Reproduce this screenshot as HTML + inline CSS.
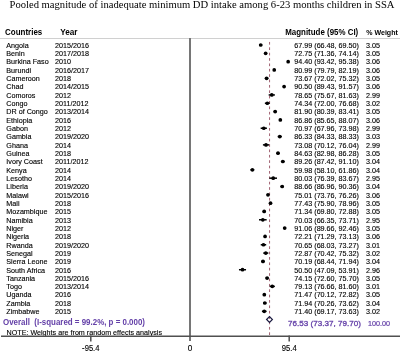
<!DOCTYPE html><html><head><meta charset="utf-8"><style>
html,body{margin:0;padding:0;background:#fff;}body{width:400px;height:352px;overflow:hidden;}
svg{display:block;will-change:transform}
.t{font-family:"Liberation Sans",sans-serif;font-size:7.2px;fill:#000;stroke:#000;stroke-width:0.12}
.h{font-family:"Liberation Sans",sans-serif;font-size:8.4px;font-weight:bold;fill:#000}
.ti{font-family:"Liberation Serif",serif;font-size:10.6px;fill:#000}
.p{fill:#6440a8}
</style></head><body>
<svg width="400" height="352" viewBox="0 0 400 352">
<rect width="400" height="352" fill="#fff"/>
<text class="ti" x="9.5" y="8.4" textLength="385" lengthAdjust="spacingAndGlyphs">Pooled magnitude of inadequate minimum DD intake among 6-23 months children in SSA</text>
<text class="h" x="5" y="34.5" textLength="37.3" lengthAdjust="spacingAndGlyphs">Countries</text>
<text class="h" x="60.25" y="34.5" textLength="17.3" lengthAdjust="spacingAndGlyphs">Year</text>
<text class="h" x="285.25" y="34.5" textLength="73" lengthAdjust="spacingAndGlyphs">Magnitude (95% CI)</text>
<text class="h" x="366.3" y="34.9" textLength="31.5" lengthAdjust="spacingAndGlyphs" style="font-size:7.6px">% Weight</text>
<rect x="0" y="38" width="400" height="1" fill="#d0d0d0"/>
<rect x="189" y="38" width="2" height="303" fill="#767676"/>
<line x1="269.575894" y1="41.95" x2="269.575894" y2="336" stroke="#a06070" stroke-width="1" stroke-dasharray="2.7 2.677"/>
<text class="t" x="6.3" y="47.80">Angola</text>
<text class="t" x="55" y="47.80">2015/2016</text>
<text class="t" x="359" y="47.80" text-anchor="end">67.99 (66.48, 69.50)</text>
<text class="t" x="366" y="47.80">3.05</text>
<line x1="259.13" y1="45.00" x2="262.27" y2="45.00" stroke="#000" stroke-width="1.5"/>
<circle cx="260.70" cy="45.00" r="1.85" fill="#000"/>
<text class="t" x="6.3" y="56.12">Benin</text>
<text class="t" x="55" y="56.12">2017/2018</text>
<text class="t" x="359" y="56.12" text-anchor="end">72.75 (71.36, 74.14)</text>
<text class="t" x="366" y="56.12">3.05</text>
<line x1="264.20" y1="53.32" x2="267.09" y2="53.32" stroke="#000" stroke-width="1.5"/>
<circle cx="265.65" cy="53.32" r="1.85" fill="#000"/>
<text class="t" x="6.3" y="64.45">Burkina Faso</text>
<text class="t" x="55" y="64.45">2010</text>
<text class="t" x="359" y="64.45" text-anchor="end">94.40 (93.42, 95.38)</text>
<text class="t" x="366" y="64.45">3.06</text>
<line x1="287.14" y1="61.65" x2="289.18" y2="61.65" stroke="#000" stroke-width="1.5"/>
<circle cx="288.16" cy="61.65" r="1.85" fill="#000"/>
<text class="t" x="6.3" y="72.77">Burundi</text>
<text class="t" x="55" y="72.77">2016/2017</text>
<text class="t" x="359" y="72.77" text-anchor="end">80.99 (79.79, 82.19)</text>
<text class="t" x="366" y="72.77">3.06</text>
<line x1="272.97" y1="69.97" x2="275.46" y2="69.97" stroke="#000" stroke-width="1.5"/>
<circle cx="274.21" cy="69.97" r="1.85" fill="#000"/>
<text class="t" x="6.3" y="81.09">Cameroon</text>
<text class="t" x="55" y="81.09">2018</text>
<text class="t" x="359" y="81.09" text-anchor="end">73.67 (72.02, 75.32)</text>
<text class="t" x="366" y="81.09">3.05</text>
<line x1="264.89" y1="78.29" x2="268.32" y2="78.29" stroke="#000" stroke-width="1.5"/>
<circle cx="266.60" cy="78.29" r="1.85" fill="#000"/>
<text class="t" x="6.3" y="89.42">Chad</text>
<text class="t" x="55" y="89.42">2014/2015</text>
<text class="t" x="359" y="89.42" text-anchor="end">90.50 (89.43, 91.57)</text>
<text class="t" x="366" y="89.42">3.06</text>
<line x1="282.99" y1="86.62" x2="285.21" y2="86.62" stroke="#000" stroke-width="1.5"/>
<circle cx="284.10" cy="86.62" r="1.85" fill="#000"/>
<text class="t" x="6.3" y="97.74">Comoros</text>
<text class="t" x="55" y="97.74">2012</text>
<text class="t" x="359" y="97.74" text-anchor="end">78.65 (75.67, 81.63)</text>
<text class="t" x="366" y="97.74">2.99</text>
<line x1="268.68" y1="94.94" x2="274.88" y2="94.94" stroke="#000" stroke-width="1.5"/>
<circle cx="271.78" cy="94.94" r="1.85" fill="#000"/>
<text class="t" x="6.3" y="106.06">Congo</text>
<text class="t" x="55" y="106.06">2011/2012</text>
<text class="t" x="359" y="106.06" text-anchor="end">74.34 (72.00, 76.68)</text>
<text class="t" x="366" y="106.06">3.02</text>
<line x1="264.87" y1="103.26" x2="269.73" y2="103.26" stroke="#000" stroke-width="1.5"/>
<circle cx="267.30" cy="103.26" r="1.85" fill="#000"/>
<text class="t" x="6.3" y="114.38">DR of Congo</text>
<text class="t" x="55" y="114.38">2013/2014</text>
<text class="t" x="359" y="114.38" text-anchor="end">81.90 (80.39, 83.41)</text>
<text class="t" x="366" y="114.38">3.05</text>
<line x1="273.59" y1="111.58" x2="276.73" y2="111.58" stroke="#000" stroke-width="1.5"/>
<circle cx="275.16" cy="111.58" r="1.85" fill="#000"/>
<text class="t" x="6.3" y="122.71">Ethiopia</text>
<text class="t" x="55" y="122.71">2016</text>
<text class="t" x="359" y="122.71" text-anchor="end">86.86 (85.65, 88.07)</text>
<text class="t" x="366" y="122.71">3.06</text>
<line x1="279.06" y1="119.91" x2="281.58" y2="119.91" stroke="#000" stroke-width="1.5"/>
<circle cx="280.32" cy="119.91" r="1.85" fill="#000"/>
<text class="t" x="6.3" y="131.03">Gabon</text>
<text class="t" x="55" y="131.03">2012</text>
<text class="t" x="359" y="131.03" text-anchor="end">70.97 (67.96, 73.98)</text>
<text class="t" x="366" y="131.03">2.99</text>
<line x1="260.66" y1="128.23" x2="266.92" y2="128.23" stroke="#000" stroke-width="1.5"/>
<circle cx="263.79" cy="128.23" r="1.85" fill="#000"/>
<text class="t" x="6.3" y="139.35">Gambia</text>
<text class="t" x="55" y="139.35">2019/2020</text>
<text class="t" x="359" y="139.35" text-anchor="end">86.33 (84.33, 88.33)</text>
<text class="t" x="366" y="139.35">3.03</text>
<line x1="277.69" y1="136.55" x2="281.85" y2="136.55" stroke="#000" stroke-width="1.5"/>
<circle cx="279.77" cy="136.55" r="1.85" fill="#000"/>
<text class="t" x="6.3" y="147.68">Ghana</text>
<text class="t" x="55" y="147.68">2014</text>
<text class="t" x="359" y="147.68" text-anchor="end">73.08 (70.12, 76.04)</text>
<text class="t" x="366" y="147.68">2.99</text>
<line x1="262.91" y1="144.88" x2="269.07" y2="144.88" stroke="#000" stroke-width="1.5"/>
<circle cx="265.99" cy="144.88" r="1.85" fill="#000"/>
<text class="t" x="6.3" y="156.00">Guinea</text>
<text class="t" x="55" y="156.00">2018</text>
<text class="t" x="359" y="156.00" text-anchor="end">84.63 (82.98, 86.28)</text>
<text class="t" x="366" y="156.00">3.05</text>
<line x1="276.28" y1="153.20" x2="279.71" y2="153.20" stroke="#000" stroke-width="1.5"/>
<circle cx="278.00" cy="153.20" r="1.85" fill="#000"/>
<text class="t" x="6.3" y="164.32">Ivory Coast</text>
<text class="t" x="55" y="164.32">2011/2012</text>
<text class="t" x="359" y="164.32" text-anchor="end">89.26 (87.42, 91.10)</text>
<text class="t" x="366" y="164.32">3.04</text>
<line x1="280.90" y1="161.52" x2="284.73" y2="161.52" stroke="#000" stroke-width="1.5"/>
<circle cx="282.81" cy="161.52" r="1.85" fill="#000"/>
<text class="t" x="6.3" y="172.65">Kenya</text>
<text class="t" x="55" y="172.65">2014</text>
<text class="t" x="359" y="172.65" text-anchor="end">59.98 (58.10, 61.86)</text>
<text class="t" x="366" y="172.65">3.04</text>
<line x1="250.41" y1="169.84" x2="254.32" y2="169.84" stroke="#000" stroke-width="1.5"/>
<circle cx="252.37" cy="169.84" r="1.85" fill="#000"/>
<text class="t" x="6.3" y="180.97">Lesotho</text>
<text class="t" x="55" y="180.97">2014</text>
<text class="t" x="359" y="180.97" text-anchor="end">80.03 (76.39, 83.67)</text>
<text class="t" x="366" y="180.97">2.95</text>
<line x1="269.43" y1="178.17" x2="277.00" y2="178.17" stroke="#000" stroke-width="1.5"/>
<circle cx="273.22" cy="178.17" r="1.85" fill="#000"/>
<text class="t" x="6.3" y="189.29">Liberia</text>
<text class="t" x="55" y="189.29">2019/2020</text>
<text class="t" x="359" y="189.29" text-anchor="end">88.66 (86.96, 90.36)</text>
<text class="t" x="366" y="189.29">3.04</text>
<line x1="280.42" y1="186.49" x2="283.96" y2="186.49" stroke="#000" stroke-width="1.5"/>
<circle cx="282.19" cy="186.49" r="1.85" fill="#000"/>
<text class="t" x="6.3" y="197.61">Malawi</text>
<text class="t" x="55" y="197.61">2015/2016</text>
<text class="t" x="359" y="197.61" text-anchor="end">75.01 (73.76, 76.26)</text>
<text class="t" x="366" y="197.61">3.06</text>
<line x1="266.70" y1="194.81" x2="269.30" y2="194.81" stroke="#000" stroke-width="1.5"/>
<circle cx="268.00" cy="194.81" r="1.85" fill="#000"/>
<text class="t" x="6.3" y="205.94">Mali</text>
<text class="t" x="55" y="205.94">2018</text>
<text class="t" x="359" y="205.94" text-anchor="end">77.43 (75.90, 78.96)</text>
<text class="t" x="366" y="205.94">3.05</text>
<line x1="268.92" y1="203.14" x2="272.10" y2="203.14" stroke="#000" stroke-width="1.5"/>
<circle cx="270.51" cy="203.14" r="1.85" fill="#000"/>
<text class="t" x="6.3" y="214.26">Mozambique</text>
<text class="t" x="55" y="214.26">2015</text>
<text class="t" x="359" y="214.26" text-anchor="end">71.34 (69.80, 72.88)</text>
<text class="t" x="366" y="214.26">3.05</text>
<line x1="262.58" y1="211.46" x2="265.78" y2="211.46" stroke="#000" stroke-width="1.5"/>
<circle cx="264.18" cy="211.46" r="1.85" fill="#000"/>
<text class="t" x="6.3" y="222.58">Namibia</text>
<text class="t" x="55" y="222.58">2013</text>
<text class="t" x="359" y="222.58" text-anchor="end">70.03 (66.35, 73.71)</text>
<text class="t" x="366" y="222.58">2.95</text>
<line x1="258.99" y1="219.78" x2="266.64" y2="219.78" stroke="#000" stroke-width="1.5"/>
<circle cx="262.82" cy="219.78" r="1.85" fill="#000"/>
<text class="t" x="6.3" y="230.91">Niger</text>
<text class="t" x="55" y="230.91">2012</text>
<text class="t" x="359" y="230.91" text-anchor="end">91.06 (89.66, 92.46)</text>
<text class="t" x="366" y="230.91">3.05</text>
<line x1="283.23" y1="228.11" x2="286.14" y2="228.11" stroke="#000" stroke-width="1.5"/>
<circle cx="284.68" cy="228.11" r="1.85" fill="#000"/>
<text class="t" x="6.3" y="239.23">Nigeria</text>
<text class="t" x="55" y="239.23">2018</text>
<text class="t" x="359" y="239.23" text-anchor="end">72.21 (71.29, 73.13)</text>
<text class="t" x="366" y="239.23">3.06</text>
<line x1="264.13" y1="236.43" x2="266.04" y2="236.43" stroke="#000" stroke-width="1.5"/>
<circle cx="265.08" cy="236.43" r="1.85" fill="#000"/>
<text class="t" x="6.3" y="247.55">Rwanda</text>
<text class="t" x="55" y="247.55">2019/2020</text>
<text class="t" x="359" y="247.55" text-anchor="end">70.65 (68.03, 73.27)</text>
<text class="t" x="366" y="247.55">3.01</text>
<line x1="260.74" y1="244.75" x2="266.19" y2="244.75" stroke="#000" stroke-width="1.5"/>
<circle cx="263.46" cy="244.75" r="1.85" fill="#000"/>
<text class="t" x="6.3" y="255.88">Senegal</text>
<text class="t" x="55" y="255.88">2019</text>
<text class="t" x="359" y="255.88" text-anchor="end">72.87 (70.42, 75.32)</text>
<text class="t" x="366" y="255.88">3.02</text>
<line x1="263.22" y1="253.08" x2="268.32" y2="253.08" stroke="#000" stroke-width="1.5"/>
<circle cx="265.77" cy="253.08" r="1.85" fill="#000"/>
<text class="t" x="6.3" y="264.20">Sierra Leone</text>
<text class="t" x="55" y="264.20">2019</text>
<text class="t" x="359" y="264.20" text-anchor="end">70.19 (68.44, 71.94)</text>
<text class="t" x="366" y="264.20">3.04</text>
<line x1="261.16" y1="261.40" x2="264.80" y2="261.40" stroke="#000" stroke-width="1.5"/>
<circle cx="262.98" cy="261.40" r="1.85" fill="#000"/>
<text class="t" x="6.3" y="272.52">South Africa</text>
<text class="t" x="55" y="272.52">2016</text>
<text class="t" x="359" y="272.52" text-anchor="end">50.50 (47.09, 53.91)</text>
<text class="t" x="366" y="272.52">2.96</text>
<line x1="238.96" y1="269.72" x2="246.06" y2="269.72" stroke="#000" stroke-width="1.5"/>
<circle cx="242.51" cy="269.72" r="1.85" fill="#000"/>
<text class="t" x="6.3" y="280.84">Tanzania</text>
<text class="t" x="55" y="280.84">2015/2016</text>
<text class="t" x="359" y="280.84" text-anchor="end">74.15 (72.60, 75.70)</text>
<text class="t" x="366" y="280.84">3.05</text>
<line x1="265.49" y1="278.04" x2="268.71" y2="278.04" stroke="#000" stroke-width="1.5"/>
<circle cx="267.10" cy="278.04" r="1.85" fill="#000"/>
<text class="t" x="6.3" y="289.17">Togo</text>
<text class="t" x="55" y="289.17">2013/2014</text>
<text class="t" x="359" y="289.17" text-anchor="end">79.13 (76.66, 81.60)</text>
<text class="t" x="366" y="289.17">3.01</text>
<line x1="269.71" y1="286.37" x2="274.85" y2="286.37" stroke="#000" stroke-width="1.5"/>
<circle cx="272.28" cy="286.37" r="1.85" fill="#000"/>
<text class="t" x="6.3" y="297.49">Uganda</text>
<text class="t" x="55" y="297.49">2016</text>
<text class="t" x="359" y="297.49" text-anchor="end">71.47 (70.12, 72.82)</text>
<text class="t" x="366" y="297.49">3.05</text>
<line x1="262.91" y1="294.69" x2="265.72" y2="294.69" stroke="#000" stroke-width="1.5"/>
<circle cx="264.31" cy="294.69" r="1.85" fill="#000"/>
<text class="t" x="6.3" y="305.81">Zambia</text>
<text class="t" x="55" y="305.81">2018</text>
<text class="t" x="359" y="305.81" text-anchor="end">71.94 (70.26, 73.62)</text>
<text class="t" x="366" y="305.81">3.04</text>
<line x1="263.06" y1="303.01" x2="266.55" y2="303.01" stroke="#000" stroke-width="1.5"/>
<circle cx="264.80" cy="303.01" r="1.85" fill="#000"/>
<text class="t" x="6.3" y="314.14">Zimbabwe</text>
<text class="t" x="55" y="314.14">2015</text>
<text class="t" x="359" y="314.14" text-anchor="end">71.40 (69.17, 73.63)</text>
<text class="t" x="366" y="314.14">3.02</text>
<line x1="261.92" y1="311.34" x2="266.56" y2="311.34" stroke="#000" stroke-width="1.5"/>
<circle cx="264.24" cy="311.34" r="1.85" fill="#000"/>
<text class="h p" x="3.0" y="324.7" xml:space="preserve" textLength="142" lengthAdjust="spacingAndGlyphs" style="font-size:8.6px">Overall  (I-squared = 99.2%, p = 0.000)</text>
<text class="p" x="361" y="325.8" text-anchor="end" style="font-family:'Liberation Sans',sans-serif;font-size:8.1px;stroke:#6440a8;stroke-width:0.3">76.53 (73.37, 79.70)</text>
<text class="t p" x="368" y="325.5" style="stroke:#6440a8;stroke-width:0.2">100.00</text>
<polygon points="266.60,319.50 269.50,316.60 272.40,319.50 269.50,322.40" fill="none" stroke="#1a1a40" stroke-width="1.2"/>
<text class="t" x="6.5" y="334.6" textLength="155.5" lengthAdjust="spacingAndGlyphs">NOTE: Weights are from random effects analysis</text>
<rect x="1" y="335.5" width="399" height="1.5" fill="#505050"/>
<rect x="90.05" y="335.5" width="1.5" height="6.0" fill="#505050"/>
<rect x="288.45" y="335.5" width="1.5" height="6.0" fill="#505050"/>
<text class="t" x="90.80" y="350.8" text-anchor="middle" textLength="17.4" lengthAdjust="spacingAndGlyphs" style="font-size:8.2px">-95.4</text>
<text class="t" x="190.00" y="350.8" text-anchor="middle" style="font-size:8.2px">0</text>
<text class="t" x="289.20" y="350.8" text-anchor="middle" textLength="14.9" lengthAdjust="spacingAndGlyphs" style="font-size:8.2px">95.4</text>
</svg></body></html>
